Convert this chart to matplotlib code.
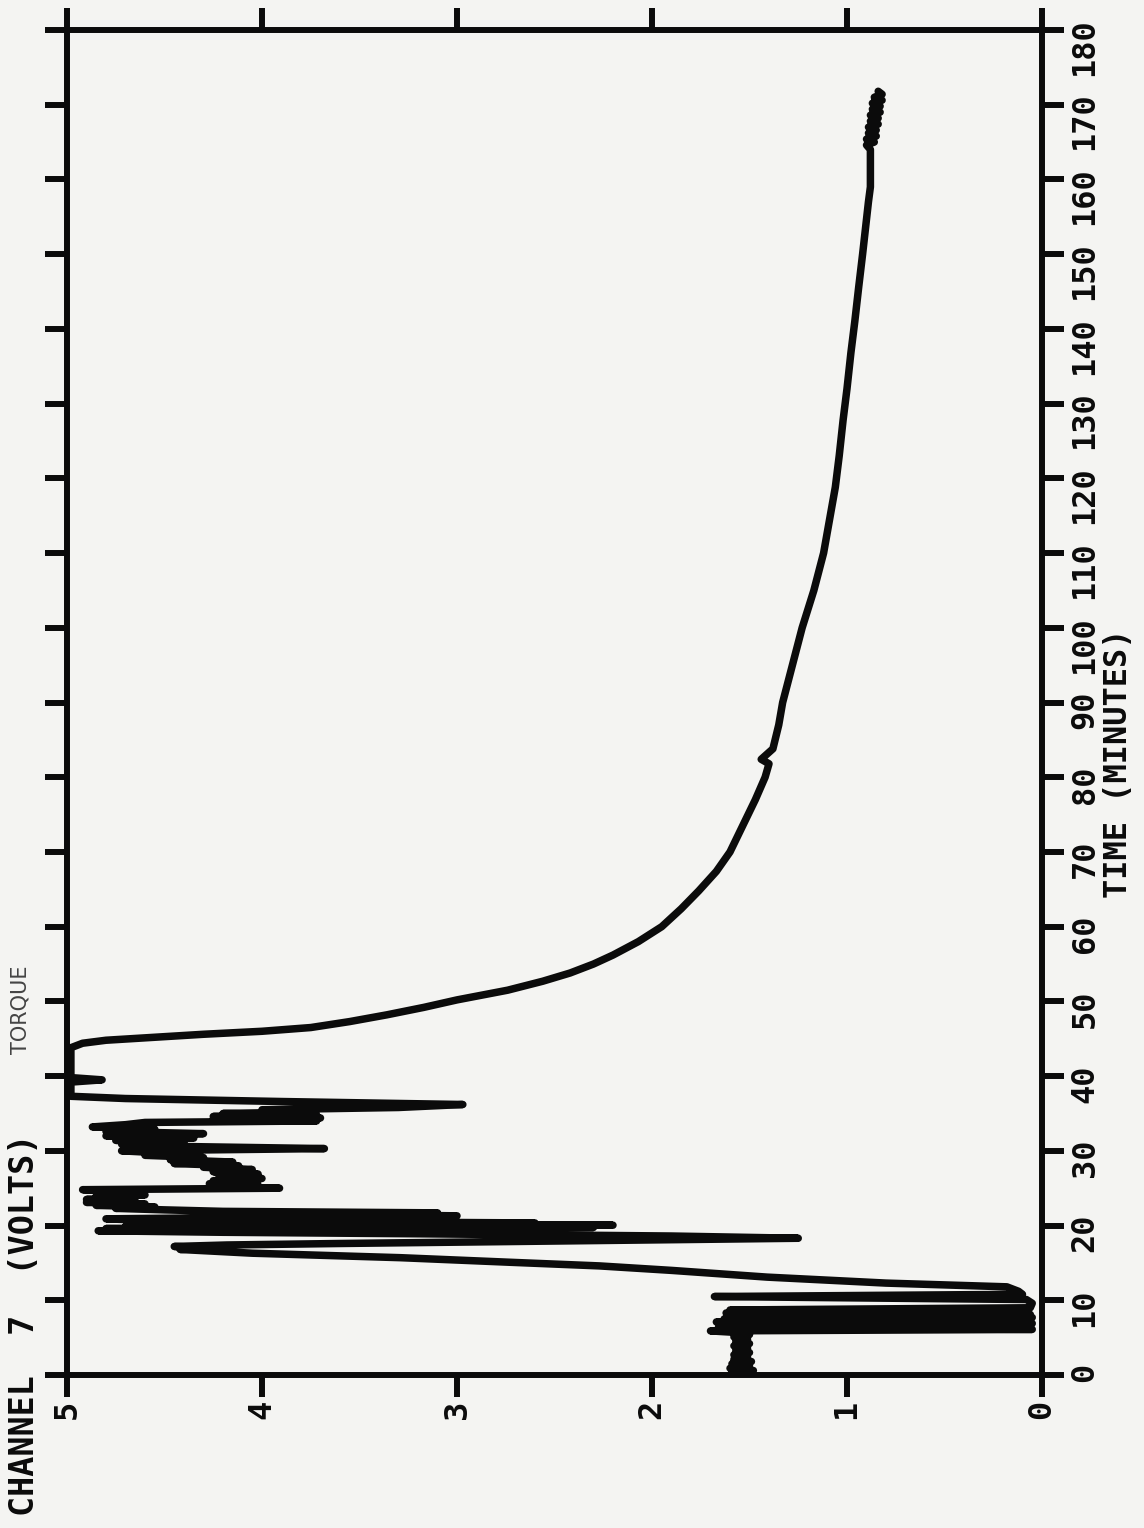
import matplotlib.pyplot as plt
import matplotlib.transforms as mtransforms

# channel 7 torque trace (time in minutes, volts)
time_min = [
    0.0, 0.3, 0.6, 0.9, 1.2, 1.5, 1.8, 2.1, 2.4, 2.7, 3.0, 3.3, 3.6, 3.9,
    4.2, 4.5, 4.8, 5.1, 5.4, 5.7,
    5.9, 6.1, 6.3, 6.5, 6.7, 6.9, 7.1, 7.3, 7.5, 7.7, 7.9, 8.1, 8.3, 8.5, 8.7,
    9.0, 9.6, 10.1, 10.5, 10.8, 11.2, 11.8,
    12.3, 13.1, 14.0, 14.6, 15.1, 15.7, 16.3, 16.8,
    17.0, 17.2, 17.4, 17.6, 17.9, 18.3, 18.6, 18.9, 19.1, 19.3, 19.45, 19.6,
    19.75, 19.9, 20.05, 20.2, 20.35, 20.5, 20.7, 20.9, 21.1, 21.3, 21.5,
    21.7, 21.9,
    22.1, 22.3, 22.5, 22.7, 22.9, 23.1, 23.3, 23.5, 23.7, 23.9, 24.1, 24.3,
    24.6, 24.8,
    25.0, 25.2, 25.4, 25.6, 25.8, 26.0, 26.3, 26.6, 26.9, 27.2, 27.5, 27.8,
    28.0, 28.3, 28.5, 28.8, 29.1, 29.4, 29.7, 30.0, 30.3, 30.6, 30.9, 31.1,
    31.4, 31.7, 32.0, 32.3, 32.6, 32.9, 33.2, 33.5, 33.8, 34.0, 34.2, 34.4,
    34.6, 34.8, 35.0, 35.2, 35.5, 35.8, 36.2, 36.6, 37.0, 37.3,
    39.2, 39.5, 39.8,
    43.8, 44.4, 44.8, 45.2, 45.6, 46.0, 46.5, 47.3, 48.2, 49.2, 50.2, 51.5,
    52.7, 53.8, 55.0, 56.2, 58.0, 60.0, 62.4, 64.8, 67.4, 70.0, 74.3, 77.0,
    80.0, 81.8, 82.4, 83.8, 87.0, 90.0, 95.0, 100.0, 105.0, 110.0, 114.4,
    118.8, 123.0, 127.8, 132.0, 136.8, 141.0, 145.6, 150.0, 154.6, 157.0,
    159.0, 162.0, 164.0, 164.6, 165.0, 165.4, 165.8, 166.2, 166.6, 167.0,
    167.4, 167.8, 168.2, 168.6, 169.0, 169.4, 169.8, 170.2, 170.6, 171.0,
    171.4, 171.8,
]
volts = [
    1.49, 1.59, 1.48, 1.60, 1.50, 1.59, 1.49, 1.58, 1.51, 1.58, 1.50, 1.57,
    1.51, 1.58, 1.50, 1.57, 1.51, 1.58, 1.50, 1.57,
    1.70, 0.05, 1.66, 0.06, 1.64, 0.05, 1.67, 0.07, 1.63, 0.05, 1.60, 0.06, 1.62, 0.08, 1.60,
    0.06, 0.05, 0.08, 1.68, 0.10, 0.12, 0.18,
    0.80, 1.41, 1.90, 2.27, 2.74, 3.29, 4.05, 4.42,
    4.20, 4.45, 4.18, 3.60, 2.60, 1.25, 1.90, 3.20, 4.20, 4.84, 3.60, 4.80,
    2.30, 4.70, 2.20, 4.60, 2.60, 3.60, 4.60, 4.80, 4.00, 3.00, 3.60,
    3.10, 4.20,
    4.50, 4.75, 4.55, 4.85, 4.60, 4.90, 4.70, 4.90, 4.65, 4.85, 4.60, 4.85,
    4.75, 4.92,
    3.91, 4.25, 4.02, 4.27, 4.05, 4.25, 4.00, 4.22, 4.02, 4.25, 4.05, 4.30,
    4.12, 4.45, 4.15, 4.47, 4.30, 4.60, 4.50, 4.72, 3.68, 4.45, 4.72, 4.40,
    4.75, 4.35, 4.80, 4.30, 4.80, 4.55, 4.87, 4.70, 4.60, 3.72, 4.25, 3.70,
    4.25, 3.72, 4.20, 3.75, 4.00, 3.30, 2.97, 3.90, 4.70, 4.98,
    4.98, 4.82, 4.98,
    4.98, 4.92, 4.80, 4.55, 4.30, 4.00, 3.75, 3.55, 3.36, 3.17, 3.00, 2.74,
    2.56, 2.42, 2.30, 2.20, 2.07, 1.95, 1.85, 1.76, 1.67, 1.60, 1.52, 1.47,
    1.42, 1.40, 1.44, 1.38, 1.35, 1.33, 1.28, 1.23, 1.17, 1.12, 1.09,
    1.06, 1.04, 1.02, 1.00, 0.98, 0.96, 0.94, 0.92, 0.90, 0.89,
    0.88, 0.88, 0.88, 0.90, 0.86, 0.90, 0.85, 0.89, 0.85, 0.89,
    0.84, 0.88, 0.84, 0.88, 0.83, 0.87, 0.83, 0.87, 0.82, 0.86,
    0.82, 0.84,
]

volt_ticks = [0, 1, 2, 3, 4, 5]
time_ticks = list(range(0, 181, 10))

ink = '#0b0b0b'
paper = '#f4f4f2'
mono = 'DejaVu Sans Mono'

fig = plt.figure(figsize=(11.44, 15.28), dpi=100)
fig.patch.set_facecolor(paper)
ax = fig.add_axes([67 / 1144, 153 / 1528, 975 / 1144, 1345 / 1528])
ax.set_facecolor(paper)

ax.plot(volts, time_min, color=ink, lw=5.4,
        solid_capstyle='round', solid_joinstyle='round')

ax.set_xlim(5, 0)
ax.set_ylim(0, 180)
ax.set_xticks(volt_ticks)
ax.set_yticks(time_ticks)
ax.tick_params(direction='out', length=16, width=4.3, color=ink,
               top=True, right=True, labelbottom=False, labelleft=False)
for s in ax.spines.values():
    s.set_linewidth(4.3)
    s.set_color(ink)

# tick labels written sideways, like the plotter did
right_side = mtransforms.blended_transform_factory(ax.transAxes, ax.transData)
for t in time_ticks:
    ax.annotate(str(t), xy=(1, t), xycoords=right_side, xytext=(43, 12),
                textcoords='offset pixels', rotation=90, rotation_mode='anchor',
                ha='right', va='center', fontsize=23, family=mono,
                weight='bold', color=ink)

bottom_side = mtransforms.blended_transform_factory(ax.transData, ax.transAxes)
for v in volt_ticks:
    ax.annotate(str(v), xy=(v, 0), xycoords=bottom_side, xytext=(0, -34),
                textcoords='offset pixels', rotation=90, rotation_mode='anchor',
                ha='center', va='center', fontsize=23, family=mono,
                weight='bold', color=ink)

fig.text(25 / 1144, 1 - 1325 / 1528, 'CHANNEL  7  (VOLTS)', rotation=90,
         ha='center', va='center', fontsize=24, family=mono, weight='bold',
         color=ink)
fig.text(1118 / 1144, 1 - 763 / 1528, 'TIME (MINUTES)', rotation=90,
         ha='center', va='center', fontsize=23, family=mono, weight='bold',
         color=ink)
fig.text(21 / 1144, 1 - 1010 / 1528, 'TORQUE', rotation=90,
         ha='center', va='center', fontsize=15, color='#444444')

fig.savefig('out.png', dpi=100, facecolor=paper)
